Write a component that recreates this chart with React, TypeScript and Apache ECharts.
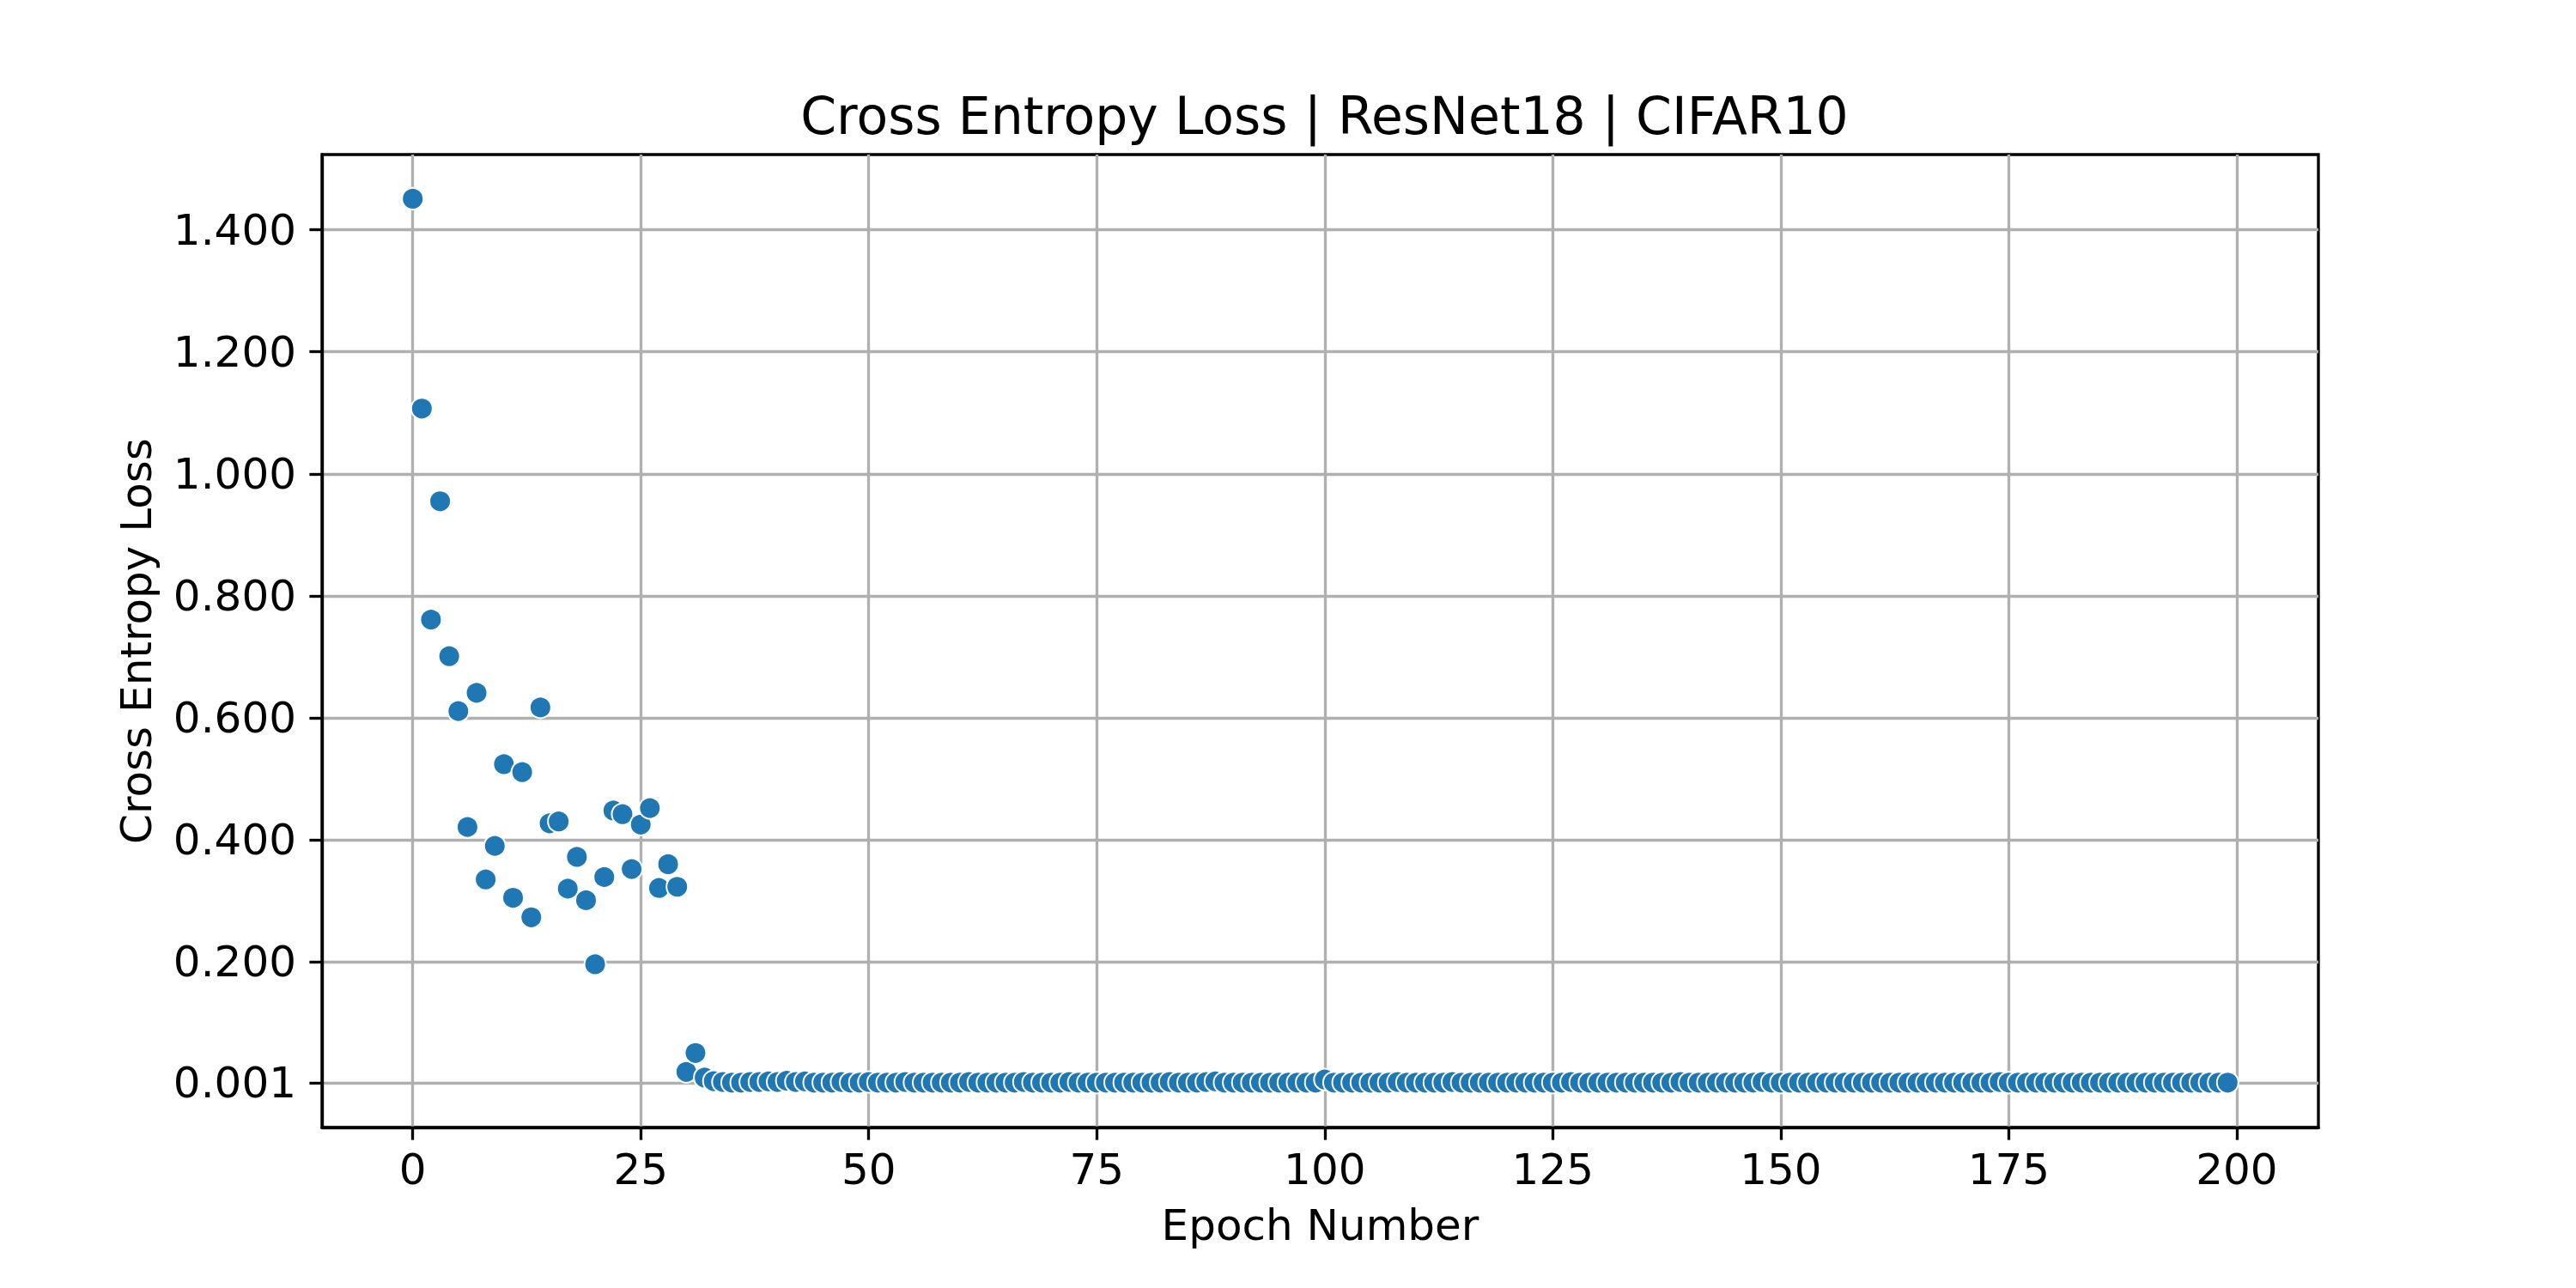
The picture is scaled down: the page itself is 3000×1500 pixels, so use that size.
import React, { useEffect, useRef } from "react";
import * as echarts from "echarts";

const TITLE = "Cross Entropy Loss | ResNet18 | CIFAR10";
const X_NAME = "Epoch Number";
const Y_NAME = "Cross Entropy Loss";
const X_TICKS = [0, 25, 50, 75, 100, 125, 150, 175, 200];
const Y_TICKS = [0.001, 0.2, 0.4, 0.6, 0.8, 1.0, 1.2, 1.4];
const X_MIN = -9.95;
const X_MAX = 208.95;
const Y_MIN = -0.0715;
const Y_MAX = 1.5234;

// epochs 0..33
const LOSS_EARLY = [
  1.451, 1.107, 0.761, 0.955, 0.701, 0.611, 0.421, 0.641, 0.335, 0.39,
  0.524, 0.305, 0.511, 0.273, 0.617, 0.427, 0.43, 0.32, 0.372, 0.301,
  0.196, 0.339, 0.448, 0.442, 0.352, 0.425, 0.452, 0.321, 0.36, 0.323,
  0.0196, 0.0506, 0.0102, 0.0045,
];
// epochs 34..199
const LOSS_LATE = [
  0.003, 0.002, 0.002, 0.003, 0.003, 0.004,
  0.003, 0.005, 0.003, 0.004, 0.002, 0.002, 0.002, 0.003, 0.002, 0.002,
  0.003, 0.002, 0.002, 0.002, 0.003, 0.002, 0.002, 0.002, 0.002, 0.002,
  0.002, 0.003, 0.002, 0.002, 0.002, 0.002, 0.002, 0.003, 0.002, 0.002,
  0.002, 0.002, 0.003, 0.002, 0.002, 0.002, 0.002, 0.002, 0.002, 0.002,
  0.002, 0.002, 0.002, 0.003, 0.002, 0.002, 0.002, 0.003, 0.004, 0.002,
  0.002, 0.002, 0.002, 0.002, 0.002, 0.002, 0.002, 0.002, 0.002, 0.002,
  0.007, 0.002, 0.002, 0.002, 0.002, 0.002, 0.002, 0.002, 0.003, 0.002,
  0.002, 0.002, 0.002, 0.002, 0.003, 0.002, 0.002, 0.002, 0.002, 0.002,
  0.002, 0.002, 0.002, 0.002, 0.002, 0.002, 0.002, 0.003, 0.002, 0.002,
  0.002, 0.002, 0.002, 0.002, 0.002, 0.002, 0.002, 0.002, 0.002, 0.003,
  0.002, 0.002, 0.002, 0.002, 0.002, 0.002, 0.002, 0.002, 0.003, 0.002,
  0.002, 0.002, 0.002, 0.002, 0.002, 0.002, 0.002, 0.002, 0.002, 0.002,
  0.002, 0.002, 0.002, 0.002, 0.002, 0.002, 0.002, 0.002, 0.002, 0.002,
  0.002, 0.002, 0.002, 0.002, 0.003, 0.002, 0.002, 0.002, 0.002, 0.002,
  0.002, 0.002, 0.002, 0.002, 0.002, 0.002, 0.002, 0.002, 0.002, 0.002,
  0.002, 0.002, 0.002, 0.002, 0.002, 0.002, 0.002, 0.002, 0.002, 0.002,
];

const LOSS = [...LOSS_EARLY, ...LOSS_LATE];

const FONT = "DejaVu Sans";
const LW = 3.33;

export default function App() {
  const ref = useRef<HTMLDivElement>(null);
  useEffect(() => {
    if (!ref.current) return;
    const chart = echarts.init(ref.current, null, { renderer: "svg" });
    const axisCommon = {
      type: "value" as const,
      axisLine: { show: true, onZero: false, lineStyle: { color: "#000", width: LW } },
      splitLine: { show: true, lineStyle: { color: "#b0b0b0", width: LW } },
      nameLocation: "middle" as const,
      nameTextStyle: { fontFamily: FONT, fontSize: 50, color: "#000" },
    };
    chart.setOption({
      animation: false,
      backgroundColor: "#fff",
      title: {
        text: TITLE,
        left: 1537.5,
        top: 100,
        textAlign: "center",
        textStyle: { fontFamily: FONT, fontSize: 60, fontWeight: "normal", color: "#000" },
      },
      grid: {
        left: 375,
        right: 300,
        top: 180,
        bottom: 187,
        show: true,
        borderColor: "#000",
        borderWidth: LW,
        containLabel: false,
        outerBoundsMode: "none",
      },
      xAxis: {
        ...axisCommon,
        min: X_MIN,
        max: X_MAX,
        name: X_NAME,
        nameGap: 89,
        axisTick: { show: true, customValues: X_TICKS, length: 14.6, lineStyle: { color: "#000", width: LW } },
        axisLabel: { customValues: X_TICKS, margin: 24, fontFamily: FONT, fontSize: 50, color: "#000" },
      },
      yAxis: {
        ...axisCommon,
        min: Y_MIN,
        max: Y_MAX,
        name: Y_NAME,
        nameGap: 191,
        axisTick: { show: true, customValues: Y_TICKS, length: 14.6, lineStyle: { color: "#000", width: LW } },
        axisLabel: {
          customValues: Y_TICKS,
          margin: 30,
          fontFamily: FONT,
          fontSize: 50,
          color: "#000",
          formatter: (v: number) => v.toFixed(3),
        },
      },
      series: [
        {
          type: "scatter",
          data: LOSS.map((v, i) => [i, v]),
          symbol: "circle",
          symbolSize: 25,
          itemStyle: { color: "#1f77b4", borderColor: "#fff", borderWidth: 2, opacity: 1 },
        },
      ],
    });
    return () => chart.dispose();
  }, []);
  return (
    <div
      ref={ref}
      style={{ position: "absolute", left: 0, top: 0, width: 3000, height: 1500 }}
    />
  );
}
